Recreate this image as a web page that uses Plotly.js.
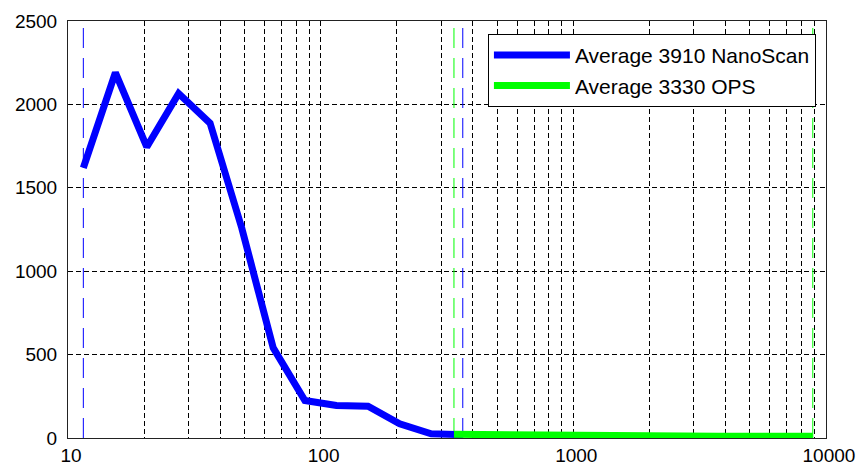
<!DOCTYPE html>
<html>
<head>
<meta charset="utf-8">
<script src="https://cdn.plot.ly/plotly-3.0.1.min.js"></script>
<style>
html,body{margin:0;padding:0;background:#fff;}
#chart{width:856px;height:465px;}
</style>
</head>
<body>
<div id="chart"></div>
<script>
// NanoScan 3910 average (size nm vs concentration)
const nanoX = [11.5, 15.4, 20.5, 27.4, 36.5, 48.7, 64.9, 86.6, 115.5, 154, 205.4, 273.8, 365.2];
const nanoY = [1620, 2190, 1745, 2065, 1888, 1260, 540, 225, 195, 190, 85, 25, 20];
// OPS 3330 average
const opsX = [337, 419, 522, 650, 809, 1007, 1254, 1562, 1944, 2421, 3014, 3752, 4672, 5816, 7241, 8870];
const opsY = [22, 20, 18, 16, 15, 14, 13, 12, 12, 11, 11, 10, 10, 10, 10, 10];
// instrument range limits (dashed verticals)
const nanoLimits = [11.5, 365.2];
const opsLimits = [337, 8870];
const yRange = [0, 2500];
// axis ticks
const xTickVals = [10,20,30,40,50,60,70,80,90,100,200,300,400,500,600,700,800,900,1000,2000,3000,4000,5000,6000,7000,8000,9000,10000];
const xTickText = xTickVals.map(v => [10,100,1000,10000].includes(v) ? String(v) : "");
const yTickVals = [0, 500, 1000, 1500, 2000, 2500];
const seriesNames = ["Average 3910 NanoScan", "Average 3330 OPS"];

const BLUE = "rgb(0,0,255)", GREEN = "rgb(0,255,0)";
const traces = [];
function vline(x, color) {
  traces.push({x: [x, x], y: yRange, mode: "lines", showlegend: false, hoverinfo: "skip",
    line: {color: color, width: 1, dash: "20px,10px"}});
}
nanoLimits.forEach(v => vline(v, BLUE));
opsLimits.forEach(v => vline(v, GREEN));
traces.push({x: nanoX, y: nanoY, mode: "lines", name: seriesNames[0], line: {color: BLUE, width: 7}});
traces.push({x: opsX, y: opsY, mode: "lines", name: seriesNames[1], line: {color: GREEN, width: 7}});

const gridCommon = {showgrid: true, gridcolor: "#000", gridwidth: 1, griddash: "5px,3px",
  showline: true, linecolor: "#222", linewidth: 1, mirror: true, zeroline: false, ticks: ""};
const layout = {
  width: 856, height: 465,
  margin: {l: 68, r: 30, t: 21, b: 27},
  paper_bgcolor: "#fff", plot_bgcolor: "#fff",
  font: {family: "Liberation Sans, Arial, sans-serif", color: "#000", size: 19},
  xaxis: Object.assign({}, gridCommon, {type: "log", range: [1, 4.0002], tickmode: "array",
    tickvals: xTickVals, ticktext: xTickText, tickfont: {size: 19}, ticklabelshift: 3,
    ticklabelstandoff: 0, ticklabeloverflow: "allow"}),
  yaxis: Object.assign({}, gridCommon, {range: yRange, tickmode: "array", tickvals: yTickVals,
    tickfont: {size: 19}, ticklabelstandoff: 6}),
  showlegend: true,
  legend: {x: 0.554, y: 0.969, xanchor: "left", yanchor: "top", bgcolor: "#fff",
    bordercolor: "#000", borderwidth: 1, font: {size: 21}, itemwidth: 76},
  hovermode: false
};
Plotly.newPlot("chart", traces, layout, {displayModeBar: false, staticPlot: true});
</script>
</body>
</html>
